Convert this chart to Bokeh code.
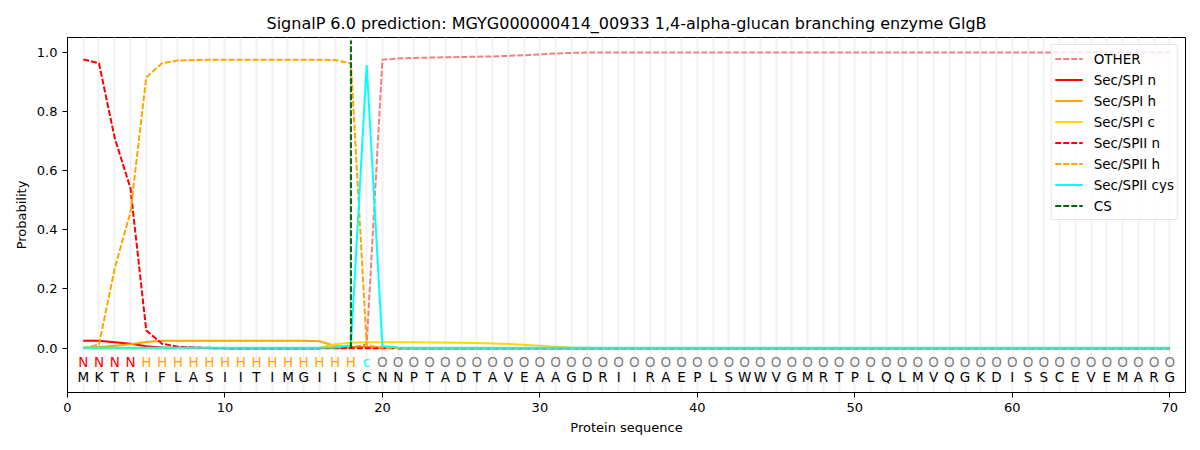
from bokeh.plotting import figure
from bokeh.models import Range1d, FixedTicker, NumeralTickFormatter, ColumnDataSource, Legend, LegendItem
from bokeh.core.properties import value
from bokeh.embed import file_html
from bokeh.resources import INLINE

title_text = "SignalP 6.0 prediction: MGYG000000414_00933 1,4-alpha-glucan branching enzyme GlgB"

sequence = "MKTRIFLASI" "ITIMGIISCN" "NPTADTAVEA" "AGDRIIRAEP" "LSWWVGMRTP" "LQLMVQGKDI" "SSCEVEMARG"
region_labels = ("NNNN" "HHHHHH" "HHHHHHHH" "c" "OOOOOOOOOO" "OOOOOOOOOO" "OOOOOOOOOO"
                 "OOOOOOOOOO" "OOOOOOOOOO" "O")
positions = list(range(1, len(sequence) + 1))
cs_position = 18

other = [0.0, 0.0, 0.0, 0.0, 0.0, 0.0, 0.0, 0.0, 0.0, 0.0,
         0.0, 0.0, 0.0, 0.0, 0.0, 0.0, 0.001, 0.002, 0.012, 0.975,
         0.979, 0.981, 0.982, 0.983, 0.984, 0.985, 0.986, 0.988, 0.990, 0.993,
         0.996, 0.998, 0.999, 0.999, 0.999, 0.999, 0.999, 0.999, 0.999, 0.999,
         0.999, 0.999, 0.999, 0.999, 0.999, 0.999, 0.999, 0.999, 0.999, 0.999,
         0.999, 0.999, 0.999, 0.999, 0.999, 0.999, 0.999, 0.999, 0.999, 0.999,
         0.999, 0.999, 0.999, 0.999, 0.999, 0.999, 0.999, 0.999, 0.999, 0.999]
spi_n = [0.025, 0.025, 0.020, 0.015, 0.006, 0.002, 0.001, 0.001, 0.0, 0.0,
         0.0, 0.0, 0.0, 0.0, 0.0, 0.0, 0.002, 0.004, 0.004, 0.001,
         0.0, 0.0, 0.0, 0.0, 0.0, 0.0, 0.0, 0.0, 0.0, 0.0,
         0.0, 0.0, 0.0, 0.0, 0.0, 0.0, 0.0, 0.0, 0.0, 0.0,
         0.0, 0.0, 0.0, 0.0, 0.0, 0.0, 0.0, 0.0, 0.0, 0.0,
         0.0, 0.0, 0.0, 0.0, 0.0, 0.0, 0.0, 0.0, 0.0, 0.0,
         0.0, 0.0, 0.0, 0.0, 0.0, 0.0, 0.0, 0.0, 0.0, 0.0]
spi_h = [0.001, 0.004, 0.008, 0.013, 0.021, 0.025, 0.025, 0.025, 0.025, 0.025,
         0.025, 0.025, 0.025, 0.025, 0.025, 0.023, 0.007, 0.004, 0.003, 0.001,
         0.0, 0.0, 0.0, 0.0, 0.0, 0.0, 0.0, 0.0, 0.0, 0.0,
         0.0, 0.0, 0.0, 0.0, 0.0, 0.0, 0.0, 0.0, 0.0, 0.0,
         0.0, 0.0, 0.0, 0.0, 0.0, 0.0, 0.0, 0.0, 0.0, 0.0,
         0.0, 0.0, 0.0, 0.0, 0.0, 0.0, 0.0, 0.0, 0.0, 0.0,
         0.0, 0.0, 0.0, 0.0, 0.0, 0.0, 0.0, 0.0, 0.0, 0.0]
spi_c = [0.0, 0.0, 0.0, 0.0, 0.0, 0.0, 0.0, 0.0, 0.0, 0.0,
         0.0, 0.0, 0.0, 0.0, 0.0, 0.001, 0.013, 0.018, 0.020, 0.020,
         0.020, 0.020, 0.019, 0.019, 0.018, 0.017, 0.016, 0.014, 0.011, 0.008,
         0.005, 0.002, 0.001, 0.0, 0.0, 0.0, 0.0, 0.0, 0.0, 0.0,
         0.0, 0.0, 0.0, 0.0, 0.0, 0.0, 0.0, 0.0, 0.0, 0.0,
         0.0, 0.0, 0.0, 0.0, 0.0, 0.0, 0.0, 0.0, 0.0, 0.0,
         0.0, 0.0, 0.0, 0.0, 0.0, 0.0, 0.0, 0.0, 0.0, 0.0]
spii_n = [0.976, 0.963, 0.710, 0.540, 0.060, 0.015, 0.005, 0.002, 0.001, 0.0,
          0.0, 0.0, 0.0, 0.0, 0.0, 0.0, 0.0, 0.0, 0.0, 0.0,
          0.0, 0.0, 0.0, 0.0, 0.0, 0.0, 0.0, 0.0, 0.0, 0.0,
          0.0, 0.0, 0.0, 0.0, 0.0, 0.0, 0.0, 0.0, 0.0, 0.0,
          0.0, 0.0, 0.0, 0.0, 0.0, 0.0, 0.0, 0.0, 0.0, 0.0,
          0.0, 0.0, 0.0, 0.0, 0.0, 0.0, 0.0, 0.0, 0.0, 0.0,
          0.0, 0.0, 0.0, 0.0, 0.0, 0.0, 0.0, 0.0, 0.0, 0.0]
spii_h = [0.0, 0.012, 0.270, 0.460, 0.915, 0.963, 0.972, 0.974, 0.975, 0.975,
          0.975, 0.975, 0.975, 0.975, 0.975, 0.975, 0.974, 0.962, 0.010, 0.001,
          0.0, 0.0, 0.0, 0.0, 0.0, 0.0, 0.0, 0.0, 0.0, 0.0,
          0.0, 0.0, 0.0, 0.0, 0.0, 0.0, 0.0, 0.0, 0.0, 0.0,
          0.0, 0.0, 0.0, 0.0, 0.0, 0.0, 0.0, 0.0, 0.0, 0.0,
          0.0, 0.0, 0.0, 0.0, 0.0, 0.0, 0.0, 0.0, 0.0, 0.0,
          0.0, 0.0, 0.0, 0.0, 0.0, 0.0, 0.0, 0.0, 0.0, 0.0]
spii_cys = [0.001, 0.001, 0.001, 0.001, 0.001, 0.001, 0.001, 0.001, 0.001, 0.001,
            0.001, 0.001, 0.001, 0.001, 0.001, 0.001, 0.002, 0.010, 0.957, 0.006,
            0.002, 0.001, 0.001, 0.001, 0.001, 0.001, 0.001, 0.001, 0.001, 0.001,
            0.001, 0.001, 0.001, 0.001, 0.001, 0.001, 0.001, 0.001, 0.001, 0.001,
            0.001, 0.001, 0.001, 0.001, 0.001, 0.001, 0.001, 0.001, 0.001, 0.001,
            0.001, 0.001, 0.001, 0.001, 0.001, 0.001, 0.001, 0.001, 0.001, 0.001,
            0.001, 0.001, 0.001, 0.001, 0.001, 0.001, 0.001, 0.001, 0.001, 0.001]

x_ticks = [0, 10, 20, 30, 40, 50, 60, 70]
y_ticks = [0.0, 0.2, 0.4, 0.6, 0.8, 1.0]

FONT = "DejaVu Sans"

p = figure(frame_width=1118, frame_height=355,
           output_backend="svg", toolbar_location=None,
           x_range=Range1d(0, 71), y_range=Range1d(-0.15, 1.05),
           min_border_left=67, min_border_right=7, min_border_top=37, min_border_bottom=50)

p.title.text = title_text
p.title.align = "center"
p.title.text_font = FONT
p.title.text_font_size = "16px"
p.title.text_font_style = "normal"
p.title.text_color = "black"

p.outline_line_color = "black"
p.outline_line_alpha = 1.0
p.outline_line_width = 1

p.ygrid.visible = False
p.xgrid.ticker = FixedTicker(ticks=positions)
p.xgrid.grid_line_color = "#f1f1f1"
p.xgrid.grid_line_width = 2

for ax in (p.xaxis[0], p.yaxis[0]):
    ax.axis_line_color = "black"
    ax.major_tick_line_color = "black"
    ax.major_tick_out = 5
    ax.major_tick_in = 0
    ax.minor_tick_out = 0
    ax.minor_tick_in = 0
    ax.major_label_text_font = FONT
    ax.major_label_text_font_size = "13px"
    ax.major_label_text_color = "black"
    ax.axis_label_text_font = FONT
    ax.axis_label_text_font_size = "13px"
    ax.axis_label_text_font_style = "normal"
    ax.axis_label_text_color = "black"

p.xaxis.ticker = FixedTicker(ticks=x_ticks)
p.yaxis.ticker = FixedTicker(ticks=y_ticks)
p.yaxis.formatter = NumeralTickFormatter(format="0.0")
p.xaxis.axis_label = "Protein sequence"
p.yaxis.axis_label = "Probability"

DASH = "6 2"
lw = 2
r_other = p.line(positions, other, line_color="#F08080", line_width=lw, line_dash=DASH)
r_spin = p.line(positions, spi_n, line_color="red", line_width=lw)
r_spih = p.line(positions, spi_h, line_color="orange", line_width=lw)
r_spic = p.line(positions, spi_c, line_color="gold", line_width=lw)
r_spiin = p.line(positions, spii_n, line_color="red", line_width=lw, line_dash=DASH)
r_spiih = p.line(positions, spii_h, line_color="orange", line_width=lw, line_dash=DASH)
r_cys = p.line(positions, spii_cys, line_color="cyan", line_width=lw)
r_cs = p.line([cs_position, cs_position], [0, 1.04], line_color="darkgreen", line_width=lw, line_dash=DASH)

label_colors = {"N": "red", "H": "orange", "c": "cyan", "O": "gray"}
src = ColumnDataSource(dict(
    x=positions,
    lab=list(region_labels),
    seq=list(sequence),
    col=[label_colors[c] for c in region_labels],
    ylab=[-0.046] * len(positions),
    yseq=[-0.097] * len(positions),
))
p.text(x="x", y="ylab", text="lab", text_color="col", source=src,
       text_font=value(FONT), text_font_size=value("13.5px"),
       text_align="center", text_baseline="middle")
p.text(x="x", y="yseq", text="seq", text_color="black", source=src,
       text_font=value(FONT), text_font_size=value("13.5px"),
       text_align="center", text_baseline="middle")

legend = Legend(items=[
    LegendItem(label="OTHER", renderers=[r_other]),
    LegendItem(label="Sec/SPI n", renderers=[r_spin]),
    LegendItem(label="Sec/SPI h", renderers=[r_spih]),
    LegendItem(label="Sec/SPI c", renderers=[r_spic]),
    LegendItem(label="Sec/SPII n", renderers=[r_spiin]),
    LegendItem(label="Sec/SPII h", renderers=[r_spiih]),
    LegendItem(label="Sec/SPII cys", renderers=[r_cys]),
    LegendItem(label="CS", renderers=[r_cs]),
], location="top_right")
legend.margin = 7
legend.padding = 3
legend.spacing = 0
legend.label_height = 21
legend.glyph_height = 21
legend.glyph_width = 28
legend.label_standoff = 11
legend.label_text_font = FONT
legend.label_text_font_size = "13.5px"
legend.label_text_color = "black"
legend.border_line_color = "#cccccc"
legend.border_line_width = 1
legend.background_fill_alpha = 0.8
p.add_layout(legend)

open("out.html", "w").write(file_html(p, INLINE))
